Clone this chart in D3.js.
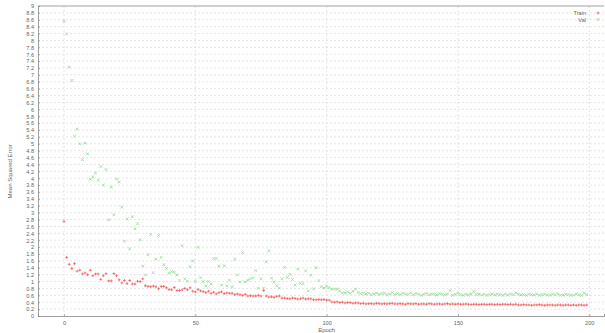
<!DOCTYPE html>
<html>
<head>
<meta charset="utf-8">
<script src="https://cdn.jsdelivr.net/npm/d3@7"></script>
<style>
  body { margin: 0; background: #fff; }
  text { font-family: "Liberation Sans", Arial, sans-serif; fill: #666; }
</style>
</head>
<body>
<div id="chart"></div>
<script>
const trainLoss = [
  2.75, 1.7, 1.5, 1.38, 1.52, 1.3, 1.33, 1.22, 1.25, 1.2,
  1.33, 1.17, 1.22, 1.22, 1.06, 1.17, 1.23, 1.02, 1.02, 1.23,
  1.17, 1.05, 0.96, 1.03, 0.94, 1.03, 0.93, 0.93, 1.01, 1.0,
  1.08, 0.88, 0.86, 0.85, 0.87, 0.85, 0.79, 0.86, 0.86, 0.82,
  0.77, 0.76, 0.83, 0.74, 0.74, 0.76, 0.8, 0.76, 0.82, 0.72,
  0.7, 0.77, 0.73, 0.71, 0.68, 0.72, 0.66, 0.69, 0.64, 0.68,
  0.7, 0.65, 0.67, 0.66, 0.66, 0.62, 0.64, 0.62, 0.6, 0.63,
  0.58, 0.59, 0.58, 0.58, 0.6, 0.58, 0.74, 0.58, 0.55, 0.56,
  0.54, 0.57, 0.58, 0.52, 0.52, 0.51, 0.5, 0.52, 0.51, 0.49,
  0.5, 0.52, 0.49, 0.5, 0.5, 0.47, 0.47, 0.48, 0.47, 0.48,
  0.46, 0.46, 0.41, 0.4, 0.41, 0.39, 0.4, 0.38, 0.39, 0.39,
  0.37, 0.38, 0.38, 0.36, 0.37, 0.35, 0.36, 0.36, 0.35, 0.37,
  0.36, 0.35, 0.36, 0.35, 0.36, 0.37, 0.35, 0.35, 0.36, 0.35,
  0.34, 0.36, 0.35, 0.35, 0.36, 0.34, 0.35, 0.35, 0.34, 0.36,
  0.35, 0.34, 0.35, 0.35, 0.34, 0.35, 0.36, 0.34, 0.35, 0.34,
  0.35, 0.34, 0.34, 0.35, 0.34, 0.33, 0.34, 0.34, 0.33, 0.34,
  0.34, 0.33, 0.34, 0.34, 0.33, 0.34, 0.33, 0.34, 0.34, 0.33,
  0.34, 0.33, 0.34, 0.32, 0.32, 0.33, 0.32, 0.32, 0.31, 0.32,
  0.32, 0.33, 0.32, 0.31, 0.32, 0.32, 0.32, 0.31, 0.32, 0.32,
  0.31, 0.32, 0.32, 0.31, 0.32, 0.31, 0.32, 0.32, 0.31, 0.32
];

const valLoss = [
  8.56, 8.19, 7.23, 6.84, 5.22, 5.43, 5.0, 4.54, 5.02, 4.71,
  3.97, 4.04, 4.15, 3.94, 4.34, 3.8, 4.25, 2.79, 3.74, 2.94,
  3.98, 3.89, 3.16, 2.17, 2.82, 1.95, 2.88, 2.53, 2.68, 2.21,
  1.45, 1.19, 1.78, 2.37, 1.26, 1.65, 2.34, 1.7, 1.49, 1.38,
  1.24, 1.29, 1.27, 1.19, 1.04, 2.04, 1.08, 1.01, 1.43, 1.6,
  1.01, 1.99, 1.11, 1.0, 0.87, 1.0, 0.93, 1.67, 1.67, 1.45,
  0.9, 1.46, 0.87, 1.04, 0.85, 1.65, 1.19, 0.99, 1.84, 0.99,
  1.04, 1.08, 1.11, 1.32, 0.81, 1.08, 0.81, 1.57, 1.89, 1.1,
  0.99, 0.88, 0.81, 1.08, 1.41, 1.12, 1.21, 1.06, 0.9, 1.36,
  0.95, 0.94, 1.31, 0.73, 1.18, 0.79, 1.4, 1.03, 0.85, 0.81,
  0.87, 0.82, 0.78, 0.78, 0.78, 0.73, 0.67, 0.67, 0.7, 0.66,
  0.72, 0.78, 0.68, 0.65, 0.66, 0.64, 0.66, 0.62, 0.64, 0.67,
  0.63, 0.65, 0.66, 0.62, 0.64, 0.68, 0.63, 0.65, 0.62, 0.66,
  0.64, 0.63, 0.67, 0.62, 0.65, 0.64, 0.6, 0.63, 0.66, 0.62,
  0.64, 0.63, 0.61, 0.65, 0.63, 0.62, 0.64, 0.74, 0.6, 0.63,
  0.66, 0.62, 0.6, 0.63, 0.61, 0.64, 0.71, 0.62, 0.64, 0.61,
  0.63, 0.6, 0.62, 0.64, 0.61, 0.63, 0.62, 0.6, 0.63, 0.61,
  0.64, 0.62, 0.67, 0.63, 0.61, 0.62, 0.6, 0.63, 0.62, 0.61,
  0.64, 0.6, 0.62, 0.63, 0.61, 0.6, 0.63, 0.62, 0.64, 0.6,
  0.61, 0.63, 0.62, 0.6, 0.61, 0.64, 0.62, 0.6, 0.66, 0.62
];

const xTicks = [0, 50, 100, 150, 200];
const yTicks = [
  0, 0.2, 0.4, 0.6, 0.8, 1, 1.2, 1.4, 1.6, 1.8,
  2, 2.2, 2.4, 2.6, 2.8, 3, 3.2, 3.4, 3.6, 3.8,
  4, 4.2, 4.4, 4.6, 4.8, 5, 5.2, 5.4, 5.6, 5.8,
  6, 6.2, 6.4, 6.6, 6.8, 7, 7.2, 7.4, 7.6, 7.8,
  8, 8.2, 8.4, 8.6, 8.8, 9
];
const seriesNames = ["Train", "Val"];
const seriesColors = ["#f25a5a", "#93d993"];

const W = 605, H = 333;
const margin = { top: 6, right: 1, bottom: 17, left: 38 };
const plotW = W - margin.left - margin.right;
const plotH = H - margin.top - margin.bottom;

const svg = d3.select("#chart").append("svg")
  .attr("width", W)
  .attr("height", H);

const g = svg.append("g")
  .attr("transform", `translate(${margin.left},${margin.top})`);

const x = d3.scaleLinear().domain([-9.9, 205.6]).range([0, plotW]);
const y = d3.scaleLinear().domain([0, 9]).range([plotH, 0]);

// grid
g.append("g")
  .selectAll("line")
  .data(yTicks.filter(d => d > 0 && d < 9))
  .enter().append("line")
  .attr("x1", 0).attr("x2", plotW)
  .attr("y1", d => y(d)).attr("y2", d => y(d))
  .attr("stroke", "#d4d4d4")
  .attr("stroke-width", 0.6)
  .attr("stroke-dasharray", "2,2");

g.append("g")
  .selectAll("line")
  .data(xTicks)
  .enter().append("line")
  .attr("x1", d => x(d)).attr("x2", d => x(d))
  .attr("y1", 0).attr("y2", plotH)
  .attr("stroke", "#d4d4d4")
  .attr("stroke-width", 0.6)
  .attr("stroke-dasharray", "2,2");

// axes
const yAxis = g.append("g")
  .call(d3.axisLeft(y).tickValues(yTicks).tickSize(-2).tickPadding(4).tickFormat(d3.format("~g")));
const xAxis = g.append("g")
  .attr("transform", `translate(0,${plotH})`)
  .call(d3.axisBottom(x).tickValues(xTicks).tickSize(-2).tickPadding(5));

[yAxis, xAxis].forEach(a => {
  a.select(".domain").attr("stroke", "#888").attr("stroke-width", 0.8);
  a.selectAll(".tick line").attr("stroke", "#888").attr("stroke-width", 0.6);
  a.selectAll(".tick text").attr("font-size", 5.6).attr("fill", "#666")
    .attr("font-family", "Liberation Sans, Arial, sans-serif");
});

// top border
g.append("line")
  .attr("x1", 0).attr("x2", plotW).attr("y1", 0).attr("y2", 0)
  .attr("stroke", "#888").attr("stroke-width", 0.8);

// axis titles
svg.append("text")
  .attr("x", margin.left + x(100))
  .attr("y", H - 1)
  .attr("text-anchor", "middle")
  .attr("font-size", 6)
  .text("Epoch");

svg.append("text")
  .attr("transform", `translate(12,${margin.top + y(4.2)}) rotate(-90)`)
  .attr("text-anchor", "middle")
  .attr("font-size", 6)
  .text("Mean Squared Error");

// markers
const s = 1.4;
const plus = (sel, color) => sel.append("path")
  .attr("d", `M${-s},0H${s}M0,${-s}V${s}`)
  .attr("stroke", color).attr("stroke-width", 0.8).attr("fill", "none");
const cross = (sel, color) => sel.append("path")
  .attr("d", `M${-s},${-s}L${s},${s}M${-s},${s}L${s},${-s}`)
  .attr("stroke", color).attr("stroke-width", 0.8).attr("fill", "none");

g.append("g").selectAll("g")
  .data(valLoss)
  .enter().append("g")
  .attr("transform", (d, i) => `translate(${x(i)},${y(d)})`)
  .each(function () { cross(d3.select(this), seriesColors[1]); });

g.append("g").selectAll("g")
  .data(trainLoss)
  .enter().append("g")
  .attr("transform", (d, i) => `translate(${x(i)},${y(d)})`)
  .each(function () { plus(d3.select(this), seriesColors[0]); });

// legend
const legend = svg.append("g");
seriesNames.forEach((name, i) => {
  const ly = 13 + i * 6.5;
  legend.append("text")
    .attr("x", 586).attr("y", ly + 2)
    .attr("text-anchor", "end")
    .attr("font-size", 5.6)
    .text(name);
  const m = legend.append("g").attr("transform", `translate(598,${ly})`);
  if (i === 0) plus(m, seriesColors[0]); else cross(m, seriesColors[1]);
});
</script>
</body>
</html>
